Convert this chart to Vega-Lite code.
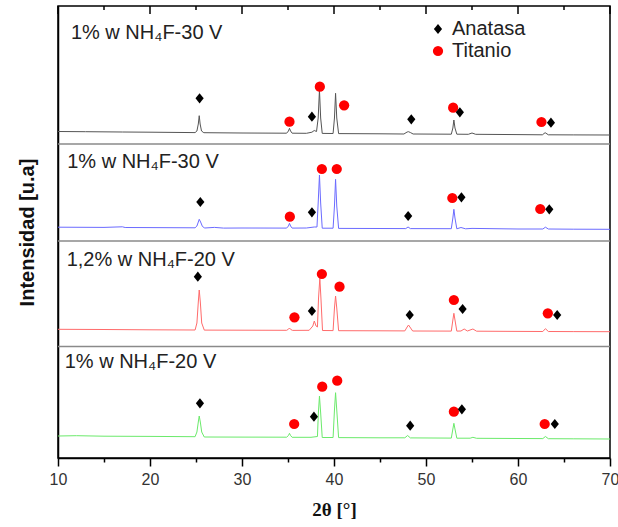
{
  "$schema": "https://vega.github.io/schema/vega-lite/v6.json",
  "width": 552,
  "height": 452,
  "autosize": {"type": "none"},
  "padding": {"left": 58, "top": 6, "right": 8, "bottom": 69},
  "background": "white",
  "config": {
    "font": "Liberation Sans",
    "view": {"stroke": "black", "strokeWidth": 1.5},
    "axisY": {"titleFont": "Liberation Sans", "titleFontSize": 20, "titleFontWeight": "bold", "titleColor": "#111"}
  },
  "datasets": {
    "seps": [{"y": 314}, {"y": 217}, {"y": 111.5}],
    "topTicks": [
      {"v": 10, "k": "major"}, {"v": 15, "k": "minor"}, {"v": 20, "k": "major"}, {"v": 25, "k": "minor"}, {"v": 30, "k": "major"},
      {"v": 35, "k": "minor"}, {"v": 40, "k": "major"}, {"v": 45, "k": "minor"}, {"v": 50, "k": "major"}, {"v": 55, "k": "minor"},
      {"v": 60, "k": "major"}, {"v": 65, "k": "minor"}, {"v": 70, "k": "major"}
    ],
    "traces": [
      {"s": "p1", "x": 10, "y": 326.5}, {"s": "p1", "x": 13, "y": 326.3}, {"s": "p1", "x": 17, "y": 326.0}, {"s": "p1", "x": 20, "y": 325.8},
      {"s": "p1", "x": 24.9, "y": 325.4}, {"s": "p1", "x": 25.1, "y": 327}, {"s": "p1", "x": 25.25, "y": 334}, {"s": "p1", "x": 25.35, "y": 342.3},
      {"s": "p1", "x": 25.45, "y": 334}, {"s": "p1", "x": 25.6, "y": 327}, {"s": "p1", "x": 25.85, "y": 325.3}, {"s": "p1", "x": 30, "y": 325},
      {"s": "p1", "x": 34.85, "y": 324.8}, {"s": "p1", "x": 35.05, "y": 327}, {"s": "p1", "x": 35.16, "y": 329.7}, {"s": "p1", "x": 35.28, "y": 327},
      {"s": "p1", "x": 35.45, "y": 324.8}, {"s": "p1", "x": 37.0, "y": 324.7}, {"s": "p1", "x": 37.6, "y": 325.8}, {"s": "p1", "x": 37.85, "y": 327.5},
      {"s": "p1", "x": 38.1, "y": 326.5}, {"s": "p1", "x": 38.28, "y": 340}, {"s": "p1", "x": 38.42, "y": 368}, {"s": "p1", "x": 38.55, "y": 340},
      {"s": "p1", "x": 38.72, "y": 324.6}, {"s": "p1", "x": 39.9, "y": 324.5}, {"s": "p1", "x": 40.05, "y": 340}, {"s": "p1", "x": 40.17, "y": 364.7},
      {"s": "p1", "x": 40.3, "y": 340}, {"s": "p1", "x": 40.5, "y": 324.4}, {"s": "p1", "x": 45, "y": 324.2}, {"s": "p1", "x": 47.6, "y": 324},
      {"s": "p1", "x": 47.95, "y": 326}, {"s": "p1", "x": 48.1, "y": 326.3}, {"s": "p1", "x": 48.3, "y": 325.5}, {"s": "p1", "x": 48.6, "y": 324},
      {"s": "p1", "x": 52.75, "y": 323.8}, {"s": "p1", "x": 52.92, "y": 330}, {"s": "p1", "x": 53.03, "y": 338}, {"s": "p1", "x": 53.15, "y": 330},
      {"s": "p1", "x": 53.35, "y": 323.8}, {"s": "p1", "x": 54.6, "y": 323.7}, {"s": "p1", "x": 55.0, "y": 325}, {"s": "p1", "x": 55.4, "y": 323.7},
      {"s": "p1", "x": 60, "y": 323.4}, {"s": "p1", "x": 62.65, "y": 323.2}, {"s": "p1", "x": 62.95, "y": 325.3}, {"s": "p1", "x": 63.3, "y": 323.2},
      {"s": "p1", "x": 66, "y": 323.1}, {"s": "p1", "x": 70, "y": 323},

      {"s": "p2", "x": 10, "y": 230.8}, {"s": "p2", "x": 15, "y": 230.6}, {"s": "p2", "x": 17, "y": 231.2}, {"s": "p2", "x": 17.3, "y": 230.5},
      {"s": "p2", "x": 20, "y": 230.4}, {"s": "p2", "x": 24.9, "y": 230.2}, {"s": "p2", "x": 25.1, "y": 232}, {"s": "p2", "x": 25.25, "y": 236},
      {"s": "p2", "x": 25.35, "y": 238.7}, {"s": "p2", "x": 25.5, "y": 236}, {"s": "p2", "x": 25.7, "y": 231.5}, {"s": "p2", "x": 25.95, "y": 230},
      {"s": "p2", "x": 27, "y": 230.6}, {"s": "p2", "x": 28, "y": 229.9}, {"s": "p2", "x": 30, "y": 230}, {"s": "p2", "x": 34.85, "y": 229.9},
      {"s": "p2", "x": 35.05, "y": 232}, {"s": "p2", "x": 35.16, "y": 234.7}, {"s": "p2", "x": 35.28, "y": 232}, {"s": "p2", "x": 35.45, "y": 229.9},
      {"s": "p2", "x": 37.0, "y": 230}, {"s": "p2", "x": 37.85, "y": 231}, {"s": "p2", "x": 38.15, "y": 231}, {"s": "p2", "x": 38.28, "y": 255},
      {"s": "p2", "x": 38.42, "y": 283}, {"s": "p2", "x": 38.55, "y": 255}, {"s": "p2", "x": 38.72, "y": 229.8}, {"s": "p2", "x": 39.9, "y": 229.8},
      {"s": "p2", "x": 40.05, "y": 252}, {"s": "p2", "x": 40.17, "y": 278.7}, {"s": "p2", "x": 40.3, "y": 252}, {"s": "p2", "x": 40.5, "y": 229.6},
      {"s": "p2", "x": 45, "y": 229.5}, {"s": "p2", "x": 47.8, "y": 229.4}, {"s": "p2", "x": 48.05, "y": 231}, {"s": "p2", "x": 48.3, "y": 229.4},
      {"s": "p2", "x": 52.75, "y": 229.3}, {"s": "p2", "x": 52.92, "y": 240}, {"s": "p2", "x": 53.03, "y": 248.7}, {"s": "p2", "x": 53.15, "y": 240},
      {"s": "p2", "x": 53.35, "y": 229.2}, {"s": "p2", "x": 53.8, "y": 230.5}, {"s": "p2", "x": 54.3, "y": 229.2}, {"s": "p2", "x": 55, "y": 229.6},
      {"s": "p2", "x": 60, "y": 229}, {"s": "p2", "x": 62.7, "y": 229}, {"s": "p2", "x": 62.98, "y": 230.8}, {"s": "p2", "x": 63.3, "y": 229},
      {"s": "p2", "x": 66, "y": 228.8}, {"s": "p2", "x": 70, "y": 228.7},

      {"s": "p3", "x": 10, "y": 128.7}, {"s": "p3", "x": 15, "y": 128.5}, {"s": "p3", "x": 20, "y": 128.2}, {"s": "p3", "x": 24.9, "y": 128},
      {"s": "p3", "x": 25.1, "y": 135}, {"s": "p3", "x": 25.25, "y": 156}, {"s": "p3", "x": 25.35, "y": 168}, {"s": "p3", "x": 25.47, "y": 156},
      {"s": "p3", "x": 25.62, "y": 135}, {"s": "p3", "x": 25.9, "y": 127.9}, {"s": "p3", "x": 30, "y": 127.8}, {"s": "p3", "x": 34.85, "y": 127.7},
      {"s": "p3", "x": 35.05, "y": 128.8}, {"s": "p3", "x": 35.16, "y": 130}, {"s": "p3", "x": 35.3, "y": 128.5}, {"s": "p3", "x": 35.5, "y": 127.6},
      {"s": "p3", "x": 37.3, "y": 127.7}, {"s": "p3", "x": 37.7, "y": 132}, {"s": "p3", "x": 37.86, "y": 137}, {"s": "p3", "x": 38.05, "y": 132},
      {"s": "p3", "x": 38.2, "y": 131}, {"s": "p3", "x": 38.32, "y": 160}, {"s": "p3", "x": 38.46, "y": 179.7}, {"s": "p3", "x": 38.58, "y": 160},
      {"s": "p3", "x": 38.75, "y": 127.5}, {"s": "p3", "x": 39.9, "y": 127.4}, {"s": "p3", "x": 40.05, "y": 150}, {"s": "p3", "x": 40.17, "y": 162},
      {"s": "p3", "x": 40.3, "y": 150}, {"s": "p3", "x": 40.5, "y": 127.3}, {"s": "p3", "x": 45, "y": 127.2}, {"s": "p3", "x": 47.7, "y": 127.1},
      {"s": "p3", "x": 47.95, "y": 131}, {"s": "p3", "x": 48.1, "y": 133}, {"s": "p3", "x": 48.25, "y": 131}, {"s": "p3", "x": 48.55, "y": 127},
      {"s": "p3", "x": 52.75, "y": 126.9}, {"s": "p3", "x": 52.92, "y": 138}, {"s": "p3", "x": 53.03, "y": 144.7}, {"s": "p3", "x": 53.15, "y": 138},
      {"s": "p3", "x": 53.35, "y": 126.9}, {"s": "p3", "x": 53.8, "y": 127}, {"s": "p3", "x": 54.15, "y": 129}, {"s": "p3", "x": 54.5, "y": 127},
      {"s": "p3", "x": 55.1, "y": 129}, {"s": "p3", "x": 55.5, "y": 126.8}, {"s": "p3", "x": 60, "y": 126.6}, {"s": "p3", "x": 62.7, "y": 126.5},
      {"s": "p3", "x": 62.98, "y": 129.3}, {"s": "p3", "x": 63.3, "y": 126.5}, {"s": "p3", "x": 66, "y": 126.4}, {"s": "p3", "x": 70, "y": 126.3},

      {"s": "p4", "x": 10, "y": 22}, {"s": "p4", "x": 12, "y": 22.3}, {"s": "p4", "x": 15, "y": 21.8}, {"s": "p4", "x": 20, "y": 21.6},
      {"s": "p4", "x": 24.9, "y": 21.3}, {"s": "p4", "x": 25.1, "y": 26}, {"s": "p4", "x": 25.25, "y": 36}, {"s": "p4", "x": 25.35, "y": 42},
      {"s": "p4", "x": 25.47, "y": 36}, {"s": "p4", "x": 25.62, "y": 26}, {"s": "p4", "x": 25.9, "y": 21}, {"s": "p4", "x": 30, "y": 20.9},
      {"s": "p4", "x": 34.85, "y": 20.8}, {"s": "p4", "x": 35.05, "y": 22.5}, {"s": "p4", "x": 35.16, "y": 24.7}, {"s": "p4", "x": 35.28, "y": 22.5},
      {"s": "p4", "x": 35.45, "y": 20.7}, {"s": "p4", "x": 37.5, "y": 20.7}, {"s": "p4", "x": 38.2, "y": 21.5}, {"s": "p4", "x": 38.3, "y": 45},
      {"s": "p4", "x": 38.42, "y": 62}, {"s": "p4", "x": 38.55, "y": 45}, {"s": "p4", "x": 38.72, "y": 20.5}, {"s": "p4", "x": 39.9, "y": 20.5},
      {"s": "p4", "x": 40.05, "y": 48}, {"s": "p4", "x": 40.17, "y": 65.3}, {"s": "p4", "x": 40.3, "y": 48}, {"s": "p4", "x": 40.5, "y": 20.4},
      {"s": "p4", "x": 45, "y": 20.2}, {"s": "p4", "x": 47.7, "y": 20.2}, {"s": "p4", "x": 48.0, "y": 22.5}, {"s": "p4", "x": 48.3, "y": 20.1},
      {"s": "p4", "x": 52.75, "y": 19.9}, {"s": "p4", "x": 52.92, "y": 29}, {"s": "p4", "x": 53.03, "y": 34.7}, {"s": "p4", "x": 53.15, "y": 29},
      {"s": "p4", "x": 53.35, "y": 19.8}, {"s": "p4", "x": 54.8, "y": 19.8}, {"s": "p4", "x": 55.1, "y": 20.7}, {"s": "p4", "x": 55.5, "y": 19.7},
      {"s": "p4", "x": 60, "y": 19.5}, {"s": "p4", "x": 62.7, "y": 19.4}, {"s": "p4", "x": 62.98, "y": 21.5}, {"s": "p4", "x": 63.3, "y": 19.3},
      {"s": "p4", "x": 66, "y": 19.2}, {"s": "p4", "x": 70, "y": 19}
    ],
    "peaks": [
      {"phase": "Anatasa", "x": 25.39, "y": 359.7}, {"phase": "Titanio", "x": 35.16, "y": 336.3}, {"phase": "Anatasa", "x": 37.6, "y": 341.3},
      {"phase": "Titanio", "x": 38.46, "y": 371.3}, {"phase": "Titanio", "x": 41.1, "y": 352.7}, {"phase": "Anatasa", "x": 48.4, "y": 338.7},
      {"phase": "Titanio", "x": 52.95, "y": 350.3}, {"phase": "Anatasa", "x": 53.68, "y": 345.7}, {"phase": "Titanio", "x": 62.55, "y": 336},
      {"phase": "Anatasa", "x": 63.58, "y": 335.3},

      {"phase": "Anatasa", "x": 25.47, "y": 256}, {"phase": "Titanio", "x": 35.2, "y": 241.3}, {"phase": "Anatasa", "x": 37.6, "y": 245.7},
      {"phase": "Titanio", "x": 38.68, "y": 289}, {"phase": "Titanio", "x": 40.3, "y": 289}, {"phase": "Anatasa", "x": 48.06, "y": 242},
      {"phase": "Titanio", "x": 52.86, "y": 260}, {"phase": "Anatasa", "x": 53.85, "y": 260.7}, {"phase": "Titanio", "x": 62.42, "y": 249},
      {"phase": "Anatasa", "x": 63.4, "y": 248.7},

      {"phase": "Anatasa", "x": 25.2, "y": 181.3}, {"phase": "Titanio", "x": 35.7, "y": 140.7}, {"phase": "Anatasa", "x": 37.6, "y": 147},
      {"phase": "Titanio", "x": 38.68, "y": 184}, {"phase": "Titanio", "x": 40.6, "y": 171.3}, {"phase": "Anatasa", "x": 48.23, "y": 143},
      {"phase": "Titanio", "x": 53.03, "y": 158}, {"phase": "Anatasa", "x": 53.98, "y": 149}, {"phase": "Titanio", "x": 63.24, "y": 144.7},
      {"phase": "Anatasa", "x": 64.26, "y": 143},

      {"phase": "Anatasa", "x": 25.43, "y": 54.7}, {"phase": "Titanio", "x": 35.67, "y": 34}, {"phase": "Anatasa", "x": 37.82, "y": 41.3},
      {"phase": "Titanio", "x": 38.72, "y": 71.3}, {"phase": "Titanio", "x": 40.35, "y": 77.3}, {"phase": "Anatasa", "x": 48.28, "y": 32.3},
      {"phase": "Titanio", "x": 53.03, "y": 46.3}, {"phase": "Anatasa", "x": 53.9, "y": 48.7}, {"phase": "Titanio", "x": 62.9, "y": 34},
      {"phase": "Anatasa", "x": 64.0, "y": 34}
    ],
    "titles": [
      {"t": "1% w NH₄F-30 V", "x": 11.4, "y": 424.7},
      {"t": "1% w NH₄F-30 V", "x": 11.0, "y": 296.3},
      {"t": "1,2% w NH₄F-20 V", "x": 10.94, "y": 198},
      {"t": "1% w NH₄F-20 V", "x": 10.73, "y": 96.3}
    ]
  },
  "layer": [
    {
      "data": {"name": "seps"},
      "mark": {"type": "rule", "color": "#8a8a8a", "strokeWidth": 1.5},
      "encoding": {
        "y": {"field": "y", "type": "quantitative", "scale": {"domain": [0, 452], "nice": false, "zero": false}}
      }
    },
    {
      "data": {"name": "topTicks"},
      "transform": [{"filter": "datum.k === 'major'"}],
      "mark": {"type": "tick", "color": "black", "orient": "vertical", "size": 8, "thickness": 1.5, "opacity": 1},
      "encoding": {
        "x": {"field": "v", "type": "quantitative", "scale": {"domain": [10, 70], "nice": false, "zero": false}, "axis": null},
        "y": {"datum": 448, "type": "quantitative"}
      }
    },
    {
      "data": {"name": "topTicks"},
      "transform": [{"filter": "datum.k === 'minor'"}],
      "mark": {"type": "tick", "color": "black", "orient": "vertical", "size": 4, "thickness": 1.5, "opacity": 1},
      "encoding": {
        "x": {"field": "v", "type": "quantitative", "scale": {"domain": [10, 70], "nice": false, "zero": false}, "axis": null},
        "y": {"datum": 450, "type": "quantitative"}
      }
    },
    {
      "data": {"name": "traces"},
      "mark": {"type": "line", "strokeWidth": 1},
      "encoding": {
        "x": {
          "field": "x", "type": "quantitative",
          "scale": {"domain": [10, 70], "nice": false, "zero": false},
          "axis": {
            "orient": "bottom",
            "values": [10, 15, 20, 25, 30, 35, 40, 45, 50, 55, 60, 65, 70],
            "labelExpr": "datum.value % 10 === 0 ? datum.label : ''",
            "labelFlush": false, "labelOverlap": false,
            "labelFont": "Liberation Sans", "labelFontSize": 16, "labelColor": "#333", "labelPadding": 5,
            "title": "2θ [°]", "titleFont": "Liberation Serif", "titleFontSize": 19, "titleFontWeight": "bold", "titleColor": "#111", "titlePadding": 13,
            "tickColor": "black", "tickWidth": 1.5,
            "tickSize": {"condition": {"test": "datum.value % 10 === 0", "value": 8}, "value": 4},
            "domainColor": "black", "domainWidth": 1.5, "grid": false
          }
        },
        "y": {
          "field": "y", "type": "quantitative",
          "scale": {"domain": [0, 452], "nice": false, "zero": false},
          "axis": {
            "title": "Intensidad [u.a]", "titleFont": "Liberation Sans", "titleFontSize": 20, "titleFontWeight": "bold", "titleColor": "#111",
            "titlePadding": 21, "labels": false, "ticks": false, "grid": false, "domainColor": "black", "domainWidth": 1.5
          }
        },
        "color": {
          "field": "s", "type": "nominal",
          "scale": {"domain": ["p1", "p2", "p3", "p4"], "range": ["#555555", "#6b6bff", "#ff6b6b", "#6bea6b"]},
          "legend": null
        }
      }
    },
    {
      "data": {"name": "titles"},
      "mark": {"type": "text", "align": "left", "baseline": "middle", "fontSize": 20, "font": "Liberation Sans", "color": "#222"},
      "encoding": {
        "x": {"field": "x", "type": "quantitative", "scale": {"domain": [10, 70], "nice": false, "zero": false}, "axis": null},
        "y": {"field": "y", "type": "quantitative"},
        "text": {"field": "t"}
      }
    },
    {
      "data": {"name": "peaks"},
      "mark": {"type": "point", "filled": true, "opacity": 1, "size": 105},
      "encoding": {
        "x": {"field": "x", "type": "quantitative", "scale": {"domain": [10, 70], "nice": false, "zero": false}, "axis": null},
        "y": {"field": "y", "type": "quantitative"},
        "color": {
          "field": "phase", "type": "nominal",
          "scale": {"domain": ["Anatasa", "Titanio"], "range": ["#000000", "#ff0000"]},
          "legend": {"title": null, "orient": "none", "legendX": 370, "legendY": 13, "padding": 0, "labelFont": "Liberation Sans", "labelFontSize": 20, "labelColor": "#222", "rowPadding": 2, "labelOffset": 4, "symbolStrokeWidth": 0, "symbolOpacity": 1, "symbolSize": 105}
        },
        "shape": {
          "field": "phase", "type": "nominal",
          "scale": {"domain": ["Anatasa", "Titanio"], "range": ["M0,-1L0.8,0L0,1L-0.8,0Z", "circle"]},
          "legend": {"title": null, "orient": "none", "legendX": 370, "legendY": 13, "padding": 0, "labelFont": "Liberation Sans", "labelFontSize": 20, "labelColor": "#222", "rowPadding": 2, "labelOffset": 4, "symbolStrokeWidth": 0, "symbolOpacity": 1, "symbolSize": 105}
        }
      }
    }
  ],
  "resolve": {"scale": {"x": "independent", "color": "independent", "shape": "independent"}}
}
